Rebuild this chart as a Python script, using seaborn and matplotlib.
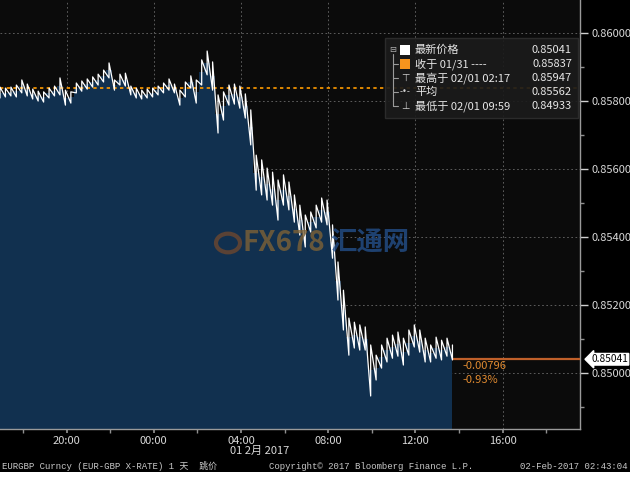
import pandas as pd
import numpy as np
import matplotlib
matplotlib.use("Agg")
import matplotlib.pyplot as plt
import matplotlib.dates as mdates
from matplotlib.patches import Rectangle, Circle
from matplotlib.ticker import MultipleLocator
import seaborn as sns

# EURGBP 15-minute bars, 31 Jan 16:57 -> 1 Feb 13:42
highs = [0.85841, 0.85838, 0.85841, 0.85847, 0.85862, 0.85850, 0.85835, 0.85829, 0.85827, 0.85838,
         0.85844, 0.85868, 0.85832, 0.85827, 0.85853, 0.85859, 0.85865, 0.85871, 0.85879, 0.85891,
         0.85912, 0.85862, 0.85879, 0.85882, 0.85844, 0.85838, 0.85832, 0.85835, 0.85838, 0.85844,
         0.85853, 0.85865, 0.85850, 0.85832, 0.85856, 0.85874, 0.85862, 0.85921, 0.85947, 0.85915,
         0.85818, 0.85827, 0.85847, 0.85850, 0.85844, 0.85821, 0.85774, 0.85641, 0.85627, 0.85603,
         0.85591, 0.85568, 0.85583, 0.85562, 0.85524, 0.85494, 0.85465, 0.85474, 0.85494, 0.85515,
         0.85509, 0.85436, 0.85327, 0.85244, 0.85162, 0.85150, 0.85142, 0.85136, 0.85083, 0.85053,
         0.85083, 0.85103, 0.85112, 0.85121, 0.85103, 0.85127, 0.85142, 0.85127, 0.85103, 0.85083,
         0.85106, 0.85097, 0.85103, 0.85083]
lows = [0.85809, 0.85812, 0.85815, 0.85812, 0.85824, 0.85815, 0.85806, 0.85800, 0.85797, 0.85809,
        0.85815, 0.85818, 0.85788, 0.85794, 0.85824, 0.85829, 0.85835, 0.85841, 0.85847, 0.85856,
        0.85868, 0.85832, 0.85847, 0.85844, 0.85818, 0.85809, 0.85806, 0.85809, 0.85812, 0.85818,
        0.85824, 0.85832, 0.85824, 0.85788, 0.85812, 0.85838, 0.85794, 0.85847, 0.85877, 0.85832,
        0.85706, 0.85744, 0.85788, 0.85791, 0.85779, 0.85750, 0.85671, 0.85538, 0.85524, 0.85509,
        0.85494, 0.85450, 0.85494, 0.85480, 0.85444, 0.85406, 0.85371, 0.85415, 0.85427, 0.85444,
        0.85436, 0.85338, 0.85215, 0.85127, 0.85053, 0.85074, 0.85068, 0.85068, 0.84933, 0.84980,
        0.85015, 0.85033, 0.85044, 0.85050, 0.85024, 0.85053, 0.85077, 0.85062, 0.85033, 0.85033,
        0.85044, 0.85039, 0.85050, 0.85039]

last_price = 0.85041
prev_close = 0.85837
change_abs = "-0.00796"
change_pct = "-0.93%"
legend_rows = [("最新价格", "0.85041"),
               ("收于 01/31 ----", "0.85837"),
               ("最高于 02/01 02:17", "0.85947"),
               ("平均", "0.85562"),
               ("最低于 02/01 09:59", "0.84933")]

times = pd.date_range("2017-01-31 16:57", periods=len(highs), freq="15min")
df = pd.DataFrame({"time": times, "high": highs, "low": lows})
df["mid"] = (df["high"] + df["low"]) / 2

# zigzag low -> high for every bar, so the trace looks like a tick chart
zig = pd.DataFrame({
    "time": np.repeat(df["time"].values, 2),
    "price": np.column_stack([df["low"], df["high"]]).ravel(),
})

sns.set_theme(style="dark", rc={"axes.facecolor": "#0b0b0b", "figure.facecolor": "black"})
plt.rcParams["font.family"] = ["Noto Sans CJK SC", "DejaVu Sans"]

W, H = 630, 490
fig = plt.figure(figsize=(6.3, 4.9), dpi=100)


def px(x, y):
    return x / W, 1 - y / H


ax = fig.add_axes([0, 1 - 429 / H, 580 / W, 429 / H])
ax.set_facecolor("#0b0b0b")

y_lo, y_hi = 0.84836, 0.86097
ax.fill_between(df["time"], df["mid"], y_lo, step="mid", color="#11304f", lw=0, zorder=2)
sns.lineplot(data=zig, x="time", y="price", ax=ax, color="white", lw=0.9,
             estimator=None, sort=False, zorder=4)

# previous close (dotted orange) and last price line
ax.axhline(prev_close, color="#ff9a00", lw=1.2, ls=(0, (2, 2)), zorder=3)
ax.hlines(last_price, df["time"].iloc[-1], pd.Timestamp("2017-02-01 19:33"),
          color="#c0602a", lw=1.6, zorder=3)

ax.set_xlim(pd.Timestamp("2017-01-31 16:57"), pd.Timestamp("2017-02-01 19:33"))
ax.set_ylim(y_lo, y_hi)
ax.set_xlabel("")
ax.set_ylabel("")

ax.xaxis.set_major_locator(mdates.HourLocator(byhour=[0, 4, 8, 12, 16, 20]))
ax.xaxis.set_minor_locator(mdates.HourLocator(byhour=[2, 6, 10, 14, 18, 22]))
ax.xaxis.set_major_formatter(mdates.DateFormatter("%H:%M"))
ax.yaxis.tick_right()
ax.yaxis.set_major_locator(MultipleLocator(0.002))
ax.yaxis.set_minor_locator(MultipleLocator(0.001))
ax.yaxis.set_major_formatter("{x:.5f}")
ax.tick_params(axis="x", which="both", direction="out", length=3, color="#909090",
               labelcolor="#d8d8d8", labelsize=8, pad=2, bottom=True)
ax.tick_params(axis="y", which="major", direction="out", length=6, width=1, color="#d0d0d0",
               labelcolor="#d8d8d8", labelsize=8, pad=2, right=True, left=False)
ax.tick_params(axis="y", which="minor", direction="out", length=3, color="#909090",
               right=True, left=False)
ax.grid(True, which="major", color="#6a6a6a", lw=0.6, ls=(0, (2, 3)))
for side in ["left", "top"]:
    ax.spines[side].set_visible(False)
for side in ["bottom", "right"]:
    ax.spines[side].set_visible(True)
    ax.spines[side].set_color("#9a9a9a")
    ax.spines[side].set_linewidth(1)

# last price label and change
ax.text(1.019, last_price, f"{last_price:.5f}", transform=ax.get_yaxis_transform(),
        ha="left", va="center", fontsize=7.3, color="black", zorder=6, clip_on=False,
        bbox=dict(boxstyle="larrow,pad=0.08", fc="white", ec="white"))
fig.text(*px(462, 366), change_abs, color="#e08a30", fontsize=8, va="center")
fig.text(*px(462, 380), change_pct, color="#e08a30", fontsize=8, va="center")

# watermark
fig.add_artist(Circle(px(228, 243), 12 / W, transform=fig.transFigure, fill=False,
                      ec="#7a4a2a", lw=3, alpha=0.7))
fig.text(*px(242, 243), "FX678", color="#7d6236", fontsize=20, fontweight="bold",
         va="center", alpha=0.8)
fig.text(*px(330, 243), "汇通网", color="#244f8a", fontsize=19, fontweight="bold",
         va="center", alpha=0.8)

# legend box
fig.add_artist(Rectangle(px(385, 118), 193 / W, 80 / H, transform=fig.transFigure,
                         fc="#1b1b1b", ec="#2e2e2e", alpha=0.92, zorder=5))
row_y = [50, 64, 78, 92, 106]
fig.add_artist(plt.Line2D([393 / W, 393 / W], [1 - 54 / H, 1 - 106 / H], color="#9a9a9a",
                          lw=0.8, zorder=6))
fig.text(*px(393, 49), "⊟", family="DejaVu Sans", color="#b0b0b0", fontsize=6,
         ha="center", va="center", zorder=7)
for i, (label, val) in enumerate(legend_rows):
    y = row_y[i]
    if i > 0:
        fig.add_artist(plt.Line2D([393 / W, 398 / W], [1 - y / H, 1 - y / H],
                                  color="#9a9a9a", lw=0.8, zorder=6))
    fig.text(*px(415, y), label, color="#e6e6e6", fontsize=8, va="center", zorder=7)
    fig.text(*px(572, y), val, color="#e6e6e6", fontsize=8, va="center", ha="right", zorder=7)
fig.add_artist(Rectangle(px(400, 55), 10 / W, 10 / H, transform=fig.transFigure,
                         fc="white", ec="none", zorder=7))
fig.add_artist(Rectangle(px(400, 69), 10 / W, 10 / H, transform=fig.transFigure,
                         fc="#f7941d", ec="none", zorder=7))
fig.text(*px(405, 78), "⊤", family="DejaVu Sans", color="#d0d0d0", fontsize=7,
         ha="center", va="center", zorder=7)
fig.text(*px(405, 92), "-•-", family="DejaVu Sans", color="#d0d0d0", fontsize=6,
         ha="center", va="center", zorder=7)
fig.text(*px(405, 106), "⊥", family="DejaVu Sans", color="#d0d0d0", fontsize=7,
         ha="center", va="center", zorder=7)

# date under the axis and footer
fig.text(*px(230, 451), "01 2月 2017", color="#d8d8d8", fontsize=8, va="center")
mono = ["Liberation Mono", "Noto Sans CJK SC"]
fig.text(*px(2, 466), "EURGBP Curncy (EUR-GBP X-RATE) 1 天  跳价", family=mono,
         color="#c8c8c8", fontsize=6.5, va="center")
fig.text(*px(269, 466), "Copyright© 2017 Bloomberg Finance L.P.", family=mono,
         color="#c8c8c8", fontsize=6.5, va="center")
fig.text(*px(628, 466), "02-Feb-2017 02:43:04", family=mono,
         color="#c8c8c8", fontsize=6.5, va="center", ha="right")

# white strip below the terminal window
fig.add_artist(Rectangle((0, 0), 1, 18 / H, transform=fig.transFigure,
                         fc="white", ec="none", zorder=10))

fig.savefig("out.png", dpi=100, facecolor="black")
